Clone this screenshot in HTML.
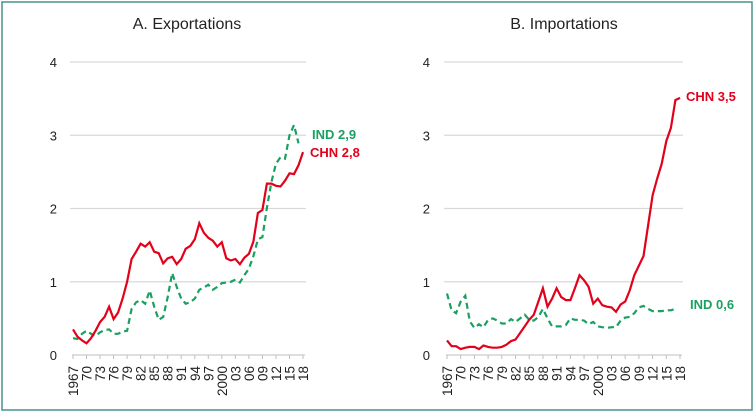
<!DOCTYPE html>
<html><head><meta charset="utf-8">
<style>
html,body{margin:0;padding:0;background:#fff;}
body{width:754px;height:413px;overflow:hidden;font-family:"Liberation Sans",sans-serif;}
</style></head>
<body>
<svg id="chart" width="754" height="413" xmlns="http://www.w3.org/2000/svg"></svg>
<script>
const years = [];
for (let y = 1967; y <= 2018; y++) years.push(y);
const tickYears = [1967,1970,1973,1976,1979,1982,1985,1988,1991,1994,1997,2000,2003,2006,2009,2012,2015,2018];
const tickLabels = ["1967","70","73","76","79","82","85","88","91","94","97","2000","03","06","09","12","15","18"];
const yTicks = [0,1,2,3,4];
const expCHN = [0.35,0.25,0.2,0.16,0.23,0.33,0.45,0.52,0.66,0.49,0.58,0.77,1.0,1.31,1.41,1.52,1.48,1.54,1.41,1.39,1.25,1.32,1.34,1.24,1.31,1.45,1.49,1.58,1.8,1.67,1.6,1.56,1.48,1.54,1.32,1.29,1.31,1.24,1.33,1.38,1.55,1.94,1.98,2.34,2.34,2.31,2.3,2.38,2.48,2.47,2.59,2.77];
const expIND = [0.23,0.22,0.29,0.33,0.29,0.26,0.31,0.34,0.35,0.29,0.29,0.32,0.33,0.63,0.72,0.75,0.7,0.88,0.66,0.48,0.52,0.79,1.12,0.93,0.77,0.7,0.72,0.77,0.89,0.92,0.96,0.89,0.93,0.98,0.99,1.0,1.03,0.99,1.09,1.18,1.35,1.58,1.61,2.01,2.36,2.61,2.7,2.68,3.0,3.14,2.89];
const impCHN = [0.2,0.12,0.12,0.08,0.1,0.11,0.11,0.08,0.13,0.11,0.1,0.1,0.11,0.14,0.19,0.21,0.3,0.39,0.48,0.55,0.73,0.91,0.66,0.77,0.91,0.79,0.75,0.75,0.91,1.09,1.02,0.93,0.7,0.77,0.68,0.66,0.65,0.59,0.69,0.73,0.88,1.09,1.22,1.35,1.76,2.18,2.41,2.61,2.92,3.1,3.48,3.51];
const impIND = [0.84,0.61,0.57,0.73,0.81,0.46,0.37,0.42,0.38,0.48,0.5,0.47,0.43,0.43,0.49,0.45,0.5,0.55,0.48,0.47,0.52,0.63,0.5,0.39,0.39,0.39,0.41,0.5,0.48,0.48,0.47,0.42,0.45,0.39,0.38,0.37,0.38,0.38,0.47,0.51,0.52,0.57,0.65,0.67,0.63,0.6,0.6,0.6,0.61,0.61,0.63];
const RED = "#e3001b", GREEN = "#1aa060";
const svg = document.getElementById('chart');
const NS = "http://www.w3.org/2000/svg";
function mk(tag, attrs, parent){const e=document.createElementNS(NS,tag);for(const k in attrs)e.setAttribute(k,attrs[k]);(parent||svg).appendChild(e);return e;}

const frame = mk('rect',{x:2,y:2,width:750,height:408,fill:"none",stroke:"#4a918c","stroke-width":1.5});



const panels = [
 {name:"exports", title:"A. Exportations", cx:187, x0:73, x1:303, ylab:57, chn:expCHN, ind:expIND,
  labels:[{t:"IND 2,9",c:GREEN,x:312,y:139},{t:"CHN 2,8",c:RED,x:310,y:157}]},
 {name:"imports", title:"B. Importations", cx:564, x0:447, x1:680, ylab:430, chn:impCHN, ind:impIND,
  labels:[{t:"CHN 3,5",c:RED,x:686,y:101},{t:"IND 0,6",c:GREEN,x:690,y:309}]}
];
const yTop=62, yBot=355;
panels.forEach(p=>{
  const g = mk('g',{});
  
  
  const t = mk('text',{x:p.cx,y:29,"text-anchor":"middle","font-size":"16",fill:"#222"},g);
  t.textContent=p.title;
  
  
  const xs = y => p.x0 + (y-1967)*(p.x1-p.x0)/(2018-1967);
  const ys = v => yBot - v*(yBot-yTop)/4;
  yTicks.forEach(v=>{
    if(v>0){const l=mk('line',{x1:p.x0-3,x2:p.x1+3,y1:ys(v),y2:ys(v),stroke:"#d9d9d9","stroke-width":1.3},g);
      
      }
    const tx=mk('text',{x:p.ylab,y:ys(v)+5,"text-anchor":"end","font-size":"13",fill:"#222"},g);
    tx.textContent=String(v);
    
    
  });
  const ax=mk('line',{x1:p.x0-1,x2:p.x1+2,y1:yBot,y2:yBot,stroke:"#bfbfbf","stroke-width":1},g);
  
  
  tickYears.forEach((yr,i)=>{
    const x=xs(yr);
    const tl=mk('line',{x1:x,x2:x,y1:yBot,y2:yBot+4,stroke:"#bfbfbf"},g);
    
    
    const tx=mk('text',{x:0,y:0,"text-anchor":"end","font-size":"13.5",fill:"#222",transform:`translate(${x+5},${yBot+11}) rotate(-90)`},g);
    tx.textContent=tickLabels[i];
    
    
  });
  const path = arr => arr.map((v,i)=>(i?'L':'M')+xs(years[i]).toFixed(1)+','+ys(v).toFixed(1)).join(' ');
  const li=mk('path',{d:path(p.ind),fill:"none",stroke:GREEN,"stroke-width":2.2,"stroke-dasharray":"6,4"},g);
  
  
  const lc=mk('path',{d:path(p.chn),fill:"none",stroke:RED,"stroke-width":2.2},g);
  
  
  p.labels.forEach(L=>{
    const tx=mk('text',{x:L.x,y:L.y,"font-size":"13","font-weight":"bold",fill:L.c},g);
    tx.textContent=L.t;
    
    
  });
});
</script>
</body></html>
